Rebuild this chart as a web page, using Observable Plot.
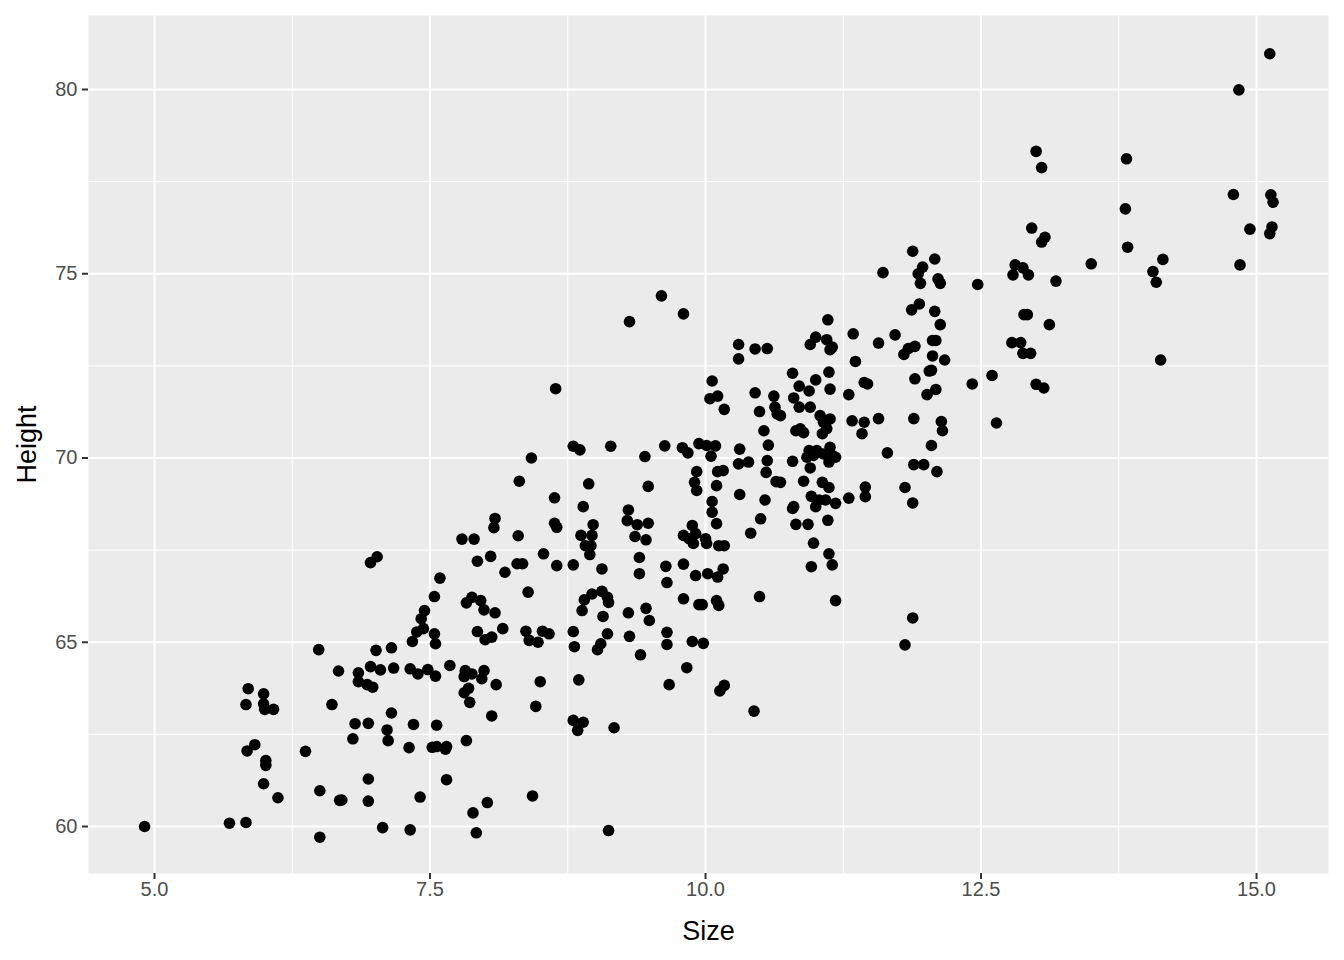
<!DOCTYPE html>
<html>
<head>
<meta charset="utf-8">
<script src="https://cdn.jsdelivr.net/npm/d3@7"></script>
<script src="https://cdn.jsdelivr.net/npm/@observablehq/plot@0.6"></script>
<style>
  html, body { margin: 0; padding: 0; background: #ffffff; }
  #chart { width: 1344px; height: 960px; }
</style>
</head>
<body>
<div id="chart"></div>
<script>
// Data
const sizeVals = [
  4.91,6.49,6.67,5.85,5.99,5.83,5.99,6.00,6.08,6.61,5.91,5.84,6.01,6.01,6.37,5.99,6.12,6.50,6.68,5.68,5.83,6.50,
  6.96,7.02,7.93,8.05,8.18,8.29,8.34,8.65,7.59,7.54,8.39,7.83,7.88,7.96,7.99,8.09,8.16,7.93,8.00,8.06,8.37,8.40,8.48,8.52,8.58,
  7.45,7.42,7.44,7.38,7.34,7.54,7.55,7.01,7.15,6.85,6.85,6.93,6.98,6.96,7.05,7.17,7.32,7.39,7.48,7.55,7.68,7.82,7.81,7.88,7.99,7.97,8.10,
  8.50,7.85,7.81,7.86,8.46,8.06,7.15,6.82,6.94,7.11,7.12,6.80,7.35,7.56,7.31,7.52,7.56,7.65,7.64,7.83,6.94,7.65,6.70,6.94,7.41,8.02,7.89,8.43,7.07,7.32,7.92,
  8.64,8.42,8.31,8.63,8.63,8.65,8.09,8.08,8.30,7.79,7.90,8.53,
  8.80,9.06,9.40,9.40,9.64,9.80,9.65,9.91,10.02,10.11,10.16,9.80,9.94,9.97,10.10,10.12,10.49,8.90,8.97,9.06,9.11,9.12,8.88,9.07,9.30,9.46,9.49,
  8.80,8.81,9.11,9.05,9.02,9.31,9.41,9.65,9.65,9.88,9.98,9.83,8.85,9.67,10.17,10.13,10.44,8.80,8.89,8.84,9.17,9.12,
  9.60,9.80,9.31,10.30,10.30,10.45,10.56,10.06,10.04,10.11,10.17,10.45,10.49,10.62,10.63,10.65,
  8.80,8.86,9.14,9.45,9.63,9.79,9.84,9.94,10.01,10.09,10.05,10.31,10.53,10.57,10.30,10.39,10.56,10.55,10.64,9.92,10.11,10.16,9.90,9.92,10.10,10.31,10.54,10.50,10.41,
  8.94,9.48,8.89,9.30,8.98,8.87,8.97,8.91,8.96,8.95,9.29,9.38,9.48,9.36,9.46,9.88,9.80,9.85,9.89,9.91,10.00,10.01,10.06,10.06,10.10,10.12,10.17,
  11.11,11.00,10.95,11.10,11.13,11.15,11.34,11.57,11.36,11.94,11.87,12.08,12.13,11.72,12.06,12.09,11.90,11.84,11.80,12.06,12.17,12.03,12.05,11.90,12.42,
  10.79,10.85,10.94,11.00,11.12,11.13,11.30,11.44,11.47,12.01,12.09,
  10.80,10.85,10.95,10.68,11.04,11.07,11.13,11.06,11.10,10.82,10.89,10.86,11.33,11.44,11.57,11.42,11.89,12.14,12.15,12.05,11.65,
  10.94,11.01,11.13,10.92,10.98,11.07,11.15,11.12,11.18,10.95,10.79,10.89,11.06,11.12,10.68,11.45,11.81,11.89,11.98,12.10,
  10.96,11.03,11.09,11.00,10.80,10.79,11.18,11.30,11.45,11.88,10.82,10.93,11.11,10.98,11.12,11.15,10.96,11.18,11.88,11.81,
  11.88,12.08,11.97,11.93,11.95,12.11,12.13,11.61,12.47,12.81,12.79,
  13.00,13.05,13.82,13.81,12.96,13.08,13.05,13.83,14.15,14.06,14.09,13.50,12.88,12.93,13.18,12.89,12.92,13.12,12.78,12.86,12.88,12.95,14.13,12.60,13.00,13.07,12.64,
  15.12,14.84,14.79,15.13,15.15,14.94,15.14,15.12,14.85
];
const heightVals = [
  60.00,64.80,64.22,63.74,63.60,63.31,63.33,63.18,63.18,63.31,62.22,62.05,61.79,61.66,62.04,61.16,60.78,60.97,60.71,60.09,60.11,59.71,
  67.16,67.32,67.20,67.33,66.90,67.13,67.13,67.08,66.74,66.24,66.36,66.07,66.22,66.13,65.88,65.80,65.37,65.29,65.07,65.14,65.30,65.05,65.00,65.30,65.23,
  65.86,65.64,65.37,65.28,65.02,65.23,64.96,64.78,64.85,64.17,63.93,63.85,63.78,64.34,64.25,64.30,64.28,64.14,64.26,64.08,64.37,64.23,64.07,64.14,64.23,64.01,63.85,
  63.93,63.75,63.63,63.37,63.26,63.00,63.08,62.79,62.80,62.62,62.33,62.38,62.77,62.75,62.14,62.15,62.17,62.17,62.10,62.33,61.29,61.27,60.72,60.69,60.80,60.65,60.37,60.83,59.97,59.91,59.83,
  71.88,70.00,69.37,68.92,68.23,68.12,68.36,68.11,67.89,67.80,67.80,67.40,
  67.10,66.99,67.30,66.86,67.06,67.12,66.62,66.81,66.86,66.77,66.99,66.18,66.02,66.02,66.13,66.00,66.24,66.15,66.31,66.38,66.22,66.08,65.86,65.70,65.80,65.92,65.59,
  65.29,64.88,65.23,64.96,64.80,65.16,64.66,65.27,64.94,65.02,64.97,64.31,63.98,63.85,63.83,63.68,63.13,62.88,62.83,62.61,62.68,59.89,
  74.40,73.91,73.70,73.08,72.69,72.96,72.97,72.09,71.61,71.68,71.32,71.77,71.26,71.68,71.38,71.20,
  70.32,70.22,70.32,70.04,70.33,70.28,70.14,70.39,70.34,70.33,70.05,70.24,70.74,70.35,69.84,69.89,69.93,69.61,69.36,69.63,69.63,69.66,69.34,69.12,69.25,69.01,68.86,68.35,67.96,
  69.30,69.23,68.68,68.59,68.19,67.90,67.90,67.62,67.62,67.38,68.30,68.19,68.23,67.87,67.78,68.17,67.90,67.81,67.68,67.95,67.81,67.68,68.82,68.53,68.22,67.62,67.62,
  73.75,73.28,73.08,73.21,72.94,73.01,73.37,73.12,72.62,74.18,74.02,73.98,73.62,73.34,73.19,73.19,73.03,72.97,72.81,72.77,72.66,72.36,72.38,72.15,72.01,
  72.30,71.95,71.82,72.12,72.33,71.87,71.72,72.05,72.01,71.72,71.86,
  71.63,71.38,71.38,71.15,71.15,70.97,71.06,70.66,70.80,70.74,70.69,70.79,71.01,70.97,71.07,70.66,71.07,70.99,70.74,70.34,70.14,
  70.20,70.20,70.29,70.02,70.07,70.11,70.07,69.89,70.02,69.73,69.91,69.37,69.34,69.20,69.34,69.21,69.20,69.82,69.82,69.63,
  68.96,68.86,68.86,68.68,68.68,68.63,68.77,68.91,68.95,68.78,68.20,68.20,68.31,67.69,67.40,67.10,67.05,66.13,65.66,64.93,
  75.61,75.40,75.18,75.00,74.74,74.86,74.74,75.03,74.71,75.24,74.97,
  78.32,77.88,78.12,76.76,76.24,75.99,75.86,75.72,75.39,75.06,74.77,75.27,75.16,74.97,74.80,73.89,73.89,73.62,73.13,73.13,72.84,72.84,72.66,72.24,72.00,71.90,70.95,
  80.97,79.99,77.15,77.14,76.94,76.21,76.27,76.09,75.24
];
const xMajor = [5.0, 7.5, 10.0, 12.5, 15.0];
const xMinor = [6.25, 8.75, 11.25, 13.75];
const yMajor = [60, 65, 70, 75, 80];
const yMinor = [62.5, 67.5, 72.5, 77.5];
const xTitle = "Size";
const yTitle = "Height";

const points = sizeVals.map((s, i) => ({size: s, height: heightVals[i]}));

const font = "'Liberation Sans', Arial, Helvetica, sans-serif";

const chart = Plot.plot({
  width: 1344,
  height: 960,
  marginLeft: 88,
  marginRight: 16,
  marginTop: 15,
  marginBottom: 87,
  style: {fontFamily: font, fontSize: "20px", background: "#ffffff", color: "#4D4D4D"},
  x: {domain: [4.401, 15.653]},
  y: {domain: [58.725, 82.008]},
  marks: [
    Plot.frame({fill: "#EBEBEB", stroke: null}),
    Plot.ruleX(xMinor, {stroke: "#ffffff", strokeWidth: 1}),
    Plot.ruleY(yMinor, {stroke: "#ffffff", strokeWidth: 1}),
    Plot.ruleX(xMajor, {stroke: "#ffffff", strokeWidth: 2}),
    Plot.ruleY(yMajor, {stroke: "#ffffff", strokeWidth: 2}),
    Plot.axisX(xMajor, {tickSize: 6, tickPadding: 2, stroke: "#333333", strokeWidth: 2, fill: "#4D4D4D", fontSize: 20, tickFormat: d3.format(".1f"), label: null}),
    Plot.axisY(yMajor, {tickSize: 6, tickPadding: 5, stroke: "#333333", strokeWidth: 2, fill: "#4D4D4D", fontSize: 20, tickFormat: d => String(d), label: null}),
    Plot.dot(points, {x: "size", y: "height", r: 5.8, fill: "#000000", stroke: null}),
    Plot.text([xTitle], {frameAnchor: "bottom", dy: 58, textAnchor: "middle", lineAnchor: "middle", fontSize: 27, fill: "#000000", text: d => d}),
    Plot.text([yTitle], {frameAnchor: "left", dx: -61, rotate: -90, textAnchor: "middle", lineAnchor: "middle", fontSize: 27, fill: "#000000", text: d => d})
  ]
});
document.getElementById("chart").appendChild(chart);
</script>
</body>
</html>
